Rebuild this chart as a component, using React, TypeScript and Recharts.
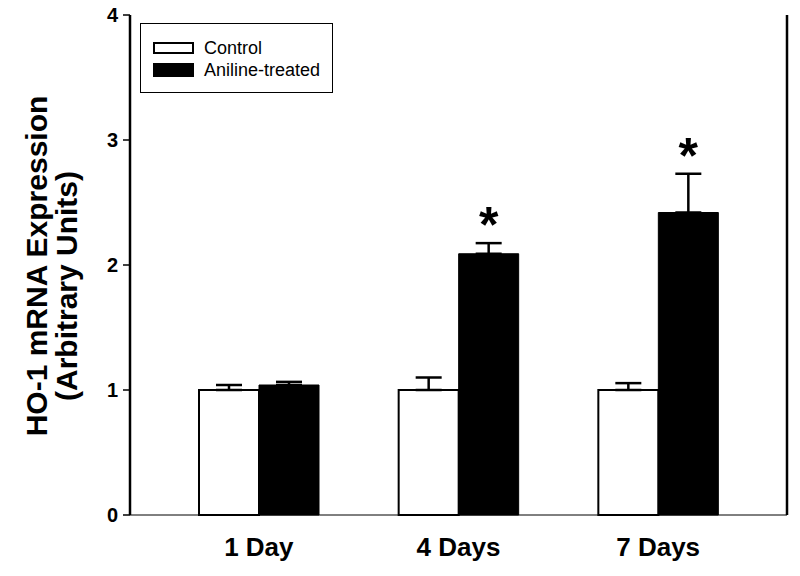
import React from 'react';
import { BarChart, Bar, XAxis, YAxis, ErrorBar, LabelList, Legend } from 'recharts';

const categories = ['1 Day', '4 Days', '7 Days'];
const controlValues = [1.0, 1.0, 1.0];
const controlErrors = [0.04, 0.1, 0.055];
const anilineValues = [1.04, 2.09, 2.42];
const anilineErrors = [0.025, 0.085, 0.31];
const significance = ['', '*', '*'];
const yTicks = [0, 1, 2, 3, 4];
const seriesKeys = ['control', 'aniline'];
const seriesNames: Record<string, string> = { control: 'Control', aniline: 'Aniline-treated' };
const yTitle = ['HO-1 mRNA Expression', '(Arbitrary Units)'];

const data = categories.map((name, i) => ({
  name,
  control: controlValues[i],
  controlErr: [0, controlErrors[i]],
  aniline: anilineValues[i],
  anilineErr: [0, anilineErrors[i]],
  sig: significance[i],
}));

const FONT = "Arial, 'Liberation Sans', sans-serif";

const YTitle = (props: any) => {
  const vb = props.viewBox || { x: 0, y: 15, width: 130, height: 500 };
  const cy = vb.y + vb.height / 2;
  const x1 = 47;
  const x2 = 77;
  return (
    <g>
      <text x={x1} y={cy + 1} transform={`rotate(-90, ${x1}, ${cy + 1})`} textAnchor="middle"
        fontFamily={FONT} fontWeight="bold" fontSize={30} fill="#000">{yTitle[0]}</text>
      <text x={x2} y={cy + 21} transform={`rotate(-90, ${x2}, ${cy + 21})`} textAnchor="middle"
        fontFamily={FONT} fontWeight="bold" fontSize={30} fill="#000">{yTitle[1]}</text>
    </g>
  );
};

const Star = (props: any) => {
  const { x, y, width, height, value, index } = props;
  if (!value) return null;
  const v = anilineValues[index];
  const e = anilineErrors[index];
  const pxPerUnit = height / v;
  const cx = x + width / 2;
  const top = y - e * pxPerUnit;
  return (
    <text x={cx} y={top - 1} textAnchor="middle" fontFamily={FONT} fontWeight="bold" fontSize={50} fill="#000">
      {value}
    </text>
  );
};

const LegendBox = (props: any) => {
  const payload = [...(props.payload || [])].sort(
    (a: any, b: any) => seriesKeys.indexOf(a.dataKey) - seriesKeys.indexOf(b.dataKey)
  );
  return (
    <div style={{ width: 193, height: 70, border: '1px solid #000', boxSizing: 'border-box', background: '#fff', position: 'relative', fontFamily: FONT }}>
      {payload.map((entry: any, i: number) => {
        const isControl = entry.dataKey === 'control';
        return (
          <div key={i} style={{ position: 'absolute', left: 12, top: i === 0 ? 17 : 39, height: 14, display: 'flex', alignItems: 'center', whiteSpace: 'nowrap' }}>
            <div style={{ width: 41, height: isControl ? 12 : 14, boxSizing: 'border-box', border: '2px solid #000', background: isControl ? '#fff' : '#000' }} />
            <span style={{ marginLeft: 10, fontSize: 18, color: '#000', lineHeight: '14px' }}>{entry.value}</span>
          </div>
        );
      })}
    </div>
  );
};

export default function App() {
  return (
    <div style={{ position: 'absolute', left: 0, top: 0, width: 800, height: 576, background: '#fff' }}>
      <BarChart width={800} height={576} data={data} margin={{ top: 15, right: 0, bottom: 0, left: 0 }} barGap={0} barSize={60}>
        <XAxis dataKey="name" height={61} padding={{ left: 29, right: 29 }} tickLine={false}
          axisLine={{ stroke: '#000', strokeWidth: 1 }} tickSize={6} tickMargin={17}
          tick={{ fontFamily: FONT, fontWeight: 'bold', fontSize: 26, fill: '#000' }} />
        <XAxis xAxisId="top" orientation="top" dataKey="name" height={0} tick={false} tickLine={false}
          axisLine={{ stroke: '#000', strokeWidth: 1 }} />
        <YAxis width={130} domain={[0, 4]} ticks={yTicks} tickSize={7} tickMargin={5}
          axisLine={{ stroke: '#000', strokeWidth: 2.5 }} tickLine={{ stroke: '#000', strokeWidth: 1.5 }}
          tick={{ fontFamily: FONT, fontWeight: 'bold', fontSize: 20, fill: '#000' }}
          label={<YTitle />} />
        <YAxis yAxisId="right" orientation="right" width={13} domain={[0, 4]} tick={false} tickLine={false}
          axisLine={{ stroke: '#000', strokeWidth: 2.5 }} />
        <Legend layout="horizontal" verticalAlign="middle" align="center" content={<LegendBox />}
          wrapperStyle={{ position: 'absolute', left: 140, top: 23, width: 193, height: 70 }} />
        <Bar dataKey="control" name={seriesNames.control} fill="#fff" stroke="#000" strokeWidth={2} isAnimationActive={false}>
          <ErrorBar dataKey="controlErr" width={13} stroke="#000" strokeWidth={2.5} direction="y" />
        </Bar>
        <Bar dataKey="aniline" name={seriesNames.aniline} fill="#000" stroke="#000" strokeWidth={1} isAnimationActive={false}>
          <ErrorBar dataKey="anilineErr" width={13} stroke="#000" strokeWidth={2.5} direction="y" />
          <LabelList dataKey="sig" content={<Star />} />
        </Bar>
      </BarChart>
    </div>
  );
}
